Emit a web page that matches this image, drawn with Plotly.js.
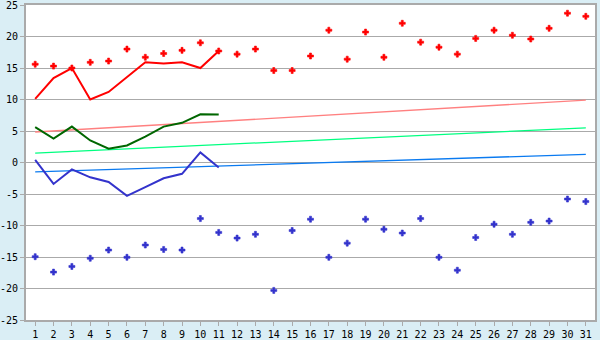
<!DOCTYPE html>
<html>
<head>
<meta charset="utf-8">
<script src="https://cdn.plot.ly/plotly-3.0.1.min.js"></script>
<style>html,body{margin:0;padding:0;background:#daeef5;}#chart{width:600px;height:340px;}</style>
</head>
<body>
<div id="chart"></div>
<script>
const days = Array.from({length: 31}, (_, i) => i + 1);
const recordHigh = [15.6, 15.3, 15.0, 15.9, 16.1, 18.0, 16.7, 17.3, 17.8, 19.0, 17.7, 17.2, 18.0, 14.6, 14.6, 16.9, 21.0, 16.4, 20.7, 16.7, 22.1, 19.1, 18.3, 17.2, 19.7, 21.0, 20.2, 19.6, 21.3, 23.7, 23.2];
const recordLow = [-14.95, -17.4, -16.5, -15.2, -13.9, -15.05, -13.1, -13.8, -13.9, -8.9, -11.1, -12.0, -11.4, -20.3, -10.8, -9.0, -15.05, -12.8, -9.0, -10.6, -11.2, -8.9, -15.05, -17.1, -11.9, -9.8, -11.4, -9.5, -9.3, -5.8, -6.2];
const obsDays = [1, 2, 3, 4, 5, 6, 7, 8, 9, 10, 11];
const obsMax = [10.1, 13.4, 15.0, 10.0, 11.2, 13.5, 15.9, 15.7, 15.9, 15.0, 17.7];
const obsMean = [5.6, 3.8, 5.7, 3.5, 2.2, 2.7, 4.1, 5.7, 6.3, 7.65, 7.6];
const obsMin = [0.4, -3.4, -1.1, -2.35, -3.1, -5.3, -3.9, -2.5, -1.8, 1.6, -0.8];
const normDays = [1, 31];
const normMax = [4.84, 9.9];
const normMean = [1.5, 5.5];
const normMin = [-1.5, 1.3];
const yTicks = [-25, -20, -15, -10, -5, 0, 5, 10, 15, 20, 25];
const yTickText = yTicks.map(v => String(v));

const traces = [
  {x: normDays, y: normMax, mode: 'lines', line: {color: '#ff8080', width: 1.3}},
  {x: normDays, y: normMean, mode: 'lines', line: {color: '#00ff80', width: 1.3}},
  {x: normDays, y: normMin, mode: 'lines', line: {color: '#0a7af0', width: 1.3}},
  {x: days, y: recordHigh, mode: 'markers', marker: {symbol: 'cross', size: 5, color: '#ff0000', line: {color: '#ff0000', width: 0.6}}},
  {x: days, y: recordLow, mode: 'markers', marker: {symbol: 'cross', size: 5, color: '#3333cc', line: {color: '#3333cc', width: 0.6}}},
  {x: obsDays, y: obsMax, mode: 'lines', line: {color: '#ff0000', width: 2}},
  {x: obsDays, y: obsMean, mode: 'lines', line: {color: '#006600', width: 2}},
  {x: obsDays, y: obsMin, mode: 'lines', line: {color: '#3333cc', width: 2}}
];

const tf = {family: 'DejaVu Sans Mono, monospace', size: 10, color: '#000'};
const layout = {
  width: 600, height: 340,
  margin: {l: 26, r: 5, t: 5, b: 20},
  paper_bgcolor: '#daeef5',
  plot_bgcolor: '#ffffff',
  showlegend: false,
  font: tf,
  xaxis: {
    range: [0.5, 31.5], tickvals: days, ticktext: days.map(String),
    showgrid: false, zeroline: false,
    showline: true, linecolor: '#aaaaaa', linewidth: 2, mirror: true,
    ticks: 'outside', ticklen: 4, tickcolor: '#aaaaaa', tickwidth: 1,
    tickfont: tf, ticklabeloverflow: 'allow'
  },
  yaxis: {
    range: [-25, 25], tickvals: yTicks, ticktext: yTickText,
    showgrid: true, gridcolor: '#aaaaaa', gridwidth: 1, zeroline: false,
    showline: true, linecolor: '#aaaaaa', linewidth: 2, mirror: true,
    ticks: 'outside', ticklen: 4, tickcolor: '#aaaaaa', tickwidth: 1,
    tickfont: tf, ticklabeloverflow: 'allow'
  }
};

Plotly.newPlot('chart', traces, layout, {staticPlot: true, displayModeBar: false});
</script>
</body>
</html>
